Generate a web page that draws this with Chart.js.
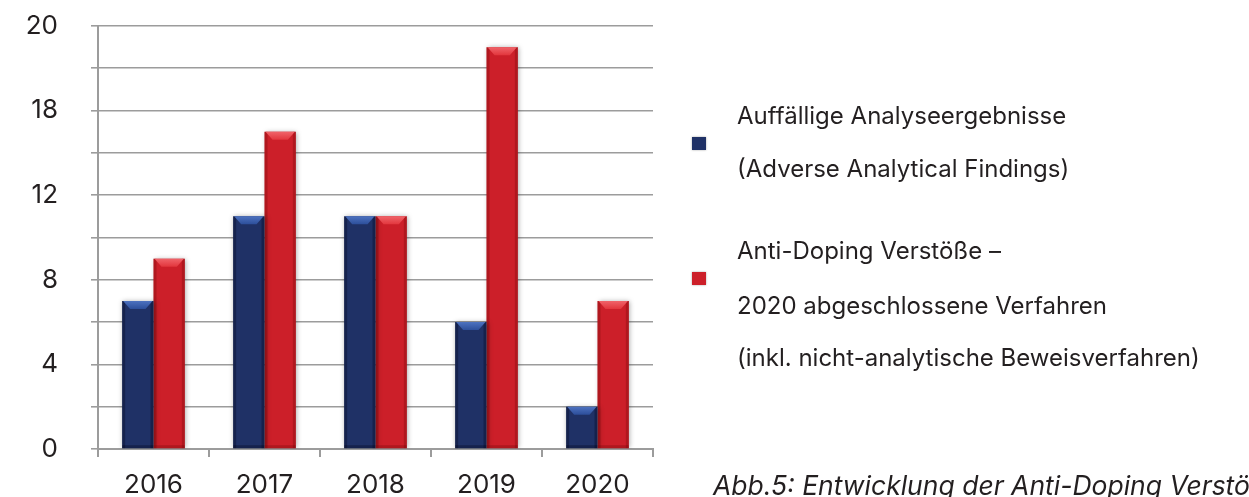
<!DOCTYPE html>
<html lang="de">
<head>
<meta charset="utf-8">
<script src="https://cdn.jsdelivr.net/npm/chart.js@4.4.0/dist/chart.umd.min.js"></script>
<style>
  html, body { margin: 0; padding: 0; background: #fff; overflow: hidden; }
  #wrap { position: relative; width: 1249px; height: 497px; overflow: hidden; font-family: Inter, sans-serif; color: #231f20; }
  #chart { position: absolute; left: 0; top: 0; }
  .lg-line { position: absolute; left: 737px; font-size: 24px; line-height: 24px; white-space: nowrap; }
  .lg-box { position: absolute; left: 692px; width: 14px; height: 13px; box-shadow: 0 0 2px rgba(0,0,0,0.35); }
  #caption { position: absolute; left: 713px; top: 472px; font-size: 26.5px; line-height: 27px; font-style: italic; white-space: nowrap; }
</style>
</head>
<body>
<div id="wrap">
  <canvas id="chart" width="1249" height="497"></canvas>
  <div id="legend"></div>
  <div id="caption">Abb.5: Entwicklung der Anti-Doping Verstöße</div>
</div>
<script>
// Daten
const years = ['2016', '2017', '2018', '2019', '2020'];
const aafValues = [7, 11, 11, 6, 2];        // Auffällige Analyseergebnisse
const adrvValues = [9, 15, 11, 19, 7];      // Anti-Doping Verstöße
const aafLabel = ['Auffällige Analyseergebnisse', '(Adverse Analytical Findings)'];
const adrvLabel = ['Anti-Doping Verstöße –', '2020 abgeschlossene Verfahren', '(inkl. nicht-analytische Beweisverfahren)'];
// Achsenbeschriftung wie im Original (bei 16 steht "18")
const yTickValues = [0, 4, 8, 12, 16, 20];
const yTickTexts = ['0', '4', '8', '12', '18', '20'];

const blue = '#1f3166';
const red = '#cc1f29';
const gridColor = '#9c9c9c';

// Schatten um die Balken
const shadowPlugin = {
  id: 'barShadow',
  beforeDatasetDraw(chart) {
    const ctx = chart.ctx;
    ctx.save();
    ctx.shadowColor = 'rgba(0,0,0,0.35)';
    ctx.shadowBlur = 5;
    ctx.shadowOffsetX = 1;
    ctx.shadowOffsetY = 0;
  },
  afterDatasetDraw(chart) {
    chart.ctx.restore();
  }
};

// 3D-Kanten auf die Balken malen
const bevelPlugin = {
  id: 'bevel',
  afterDatasetsDraw(chart) {
    const ctx = chart.ctx;
    chart.data.datasets.forEach((ds, i) => {
      const meta = chart.getDatasetMeta(i);
      const isRed = i === 1;
      meta.data.forEach(bar => {
        const l = bar.x - bar.width / 2;
        const r = bar.x + bar.width / 2;
        const t = bar.y;
        const b = bar.base;
        const s = 3;
        const topH = 8;
        ctx.save();
        // Seitenkanten
        ctx.fillStyle = isRed ? 'rgba(90,0,0,0.25)' : 'rgba(0,0,20,0.3)';
        ctx.fillRect(l, t, s, b - t);
        ctx.fillRect(r - s, t, s, b - t);
        // Oberseite
        const g = ctx.createLinearGradient(0, t, 0, t + topH);
        if (isRed) {
          g.addColorStop(0, '#f0646a');
          g.addColorStop(1, '#e2363d');
        } else {
          g.addColorStop(0, '#4d72c0');
          g.addColorStop(1, '#2c4e9a');
        }
        ctx.fillStyle = g;
        ctx.beginPath();
        ctx.moveTo(l + 1, t);
        ctx.lineTo(r - 1, t);
        ctx.lineTo(r - topH, t + topH);
        ctx.lineTo(l + topH, t + topH);
        ctx.closePath();
        ctx.fill();
        // unterer Rand
        ctx.fillStyle = isRed ? 'rgba(90,0,0,0.25)' : 'rgba(0,0,20,0.3)';
        ctx.fillRect(l, b - 3, r - l, 3);
        ctx.restore();
      });
    });
  }
};

const ctx = document.getElementById('chart').getContext('2d');
new Chart(ctx, {
  type: 'bar',
  data: {
    labels: years,
    datasets: [
      { label: aafLabel.join(' '), data: aafValues, backgroundColor: blue },
      { label: adrvLabel.join(' '), data: adrvValues, backgroundColor: red }
    ]
  },
  options: {
    responsive: false,
    animation: false,
    datasets: { bar: { categoryPercentage: 0.565, barPercentage: 1.0, borderWidth: 0 } },
    layout: { padding: { left: 0, right: 596, top: 26, bottom: 0 } },
    plugins: {
      legend: { display: false },
      tooltip: { enabled: false }
    },
    scales: {
      x: {
        afterFit(scale) { scale.height = 48; },
        grid: { display: true, drawOnChartArea: false, drawTicks: true, tickLength: 8, color: gridColor, lineWidth: 2, offset: true },
        border: { display: true, color: gridColor, width: 2 },
        ticks: { color: '#231f20', font: { family: 'Inter', size: 26 }, padding: 13, maxRotation: 0 }
      },
      y: {
        min: 0,
        max: 20,
        afterFit(scale) {
          scale.width = 98;
          // Abstand der Beschriftung soll den Plotbereich nicht verkleinern
          scale.paddingTop = 0;
          scale.paddingBottom = 0;
        },
        grid: { color: gridColor, lineWidth: 1.6, tickLength: 7 },
        border: { display: true, color: gridColor, width: 2 },
        ticks: {
          stepSize: 2,
          color: '#231f20',
          font: { family: 'Inter', size: 26 },
          padding: 33,
          callback: v => {
            const k = yTickValues.indexOf(v);
            return k >= 0 ? yTickTexts[k] : '';
          }
        }
      }
    }
  },
  plugins: [shadowPlugin, bevelPlugin]
});

// Legende als HTML
const legend = document.getElementById('legend');
function addLegend(lines, tops, color, boxTop) {
  const box = document.createElement('div');
  box.className = 'lg-box';
  box.style.top = boxTop + 'px';
  box.style.background = color;
  legend.appendChild(box);
  lines.forEach((txt, k) => {
    const d = document.createElement('div');
    d.className = 'lg-line';
    d.style.top = tops[k] + 'px';
    d.textContent = txt;
    legend.appendChild(d);
  });
}
addLegend(aafLabel, [104, 157], blue, 137);
addLegend(adrvLabel, [239, 294, 346], red, 272);
</script>
</body>
</html>
